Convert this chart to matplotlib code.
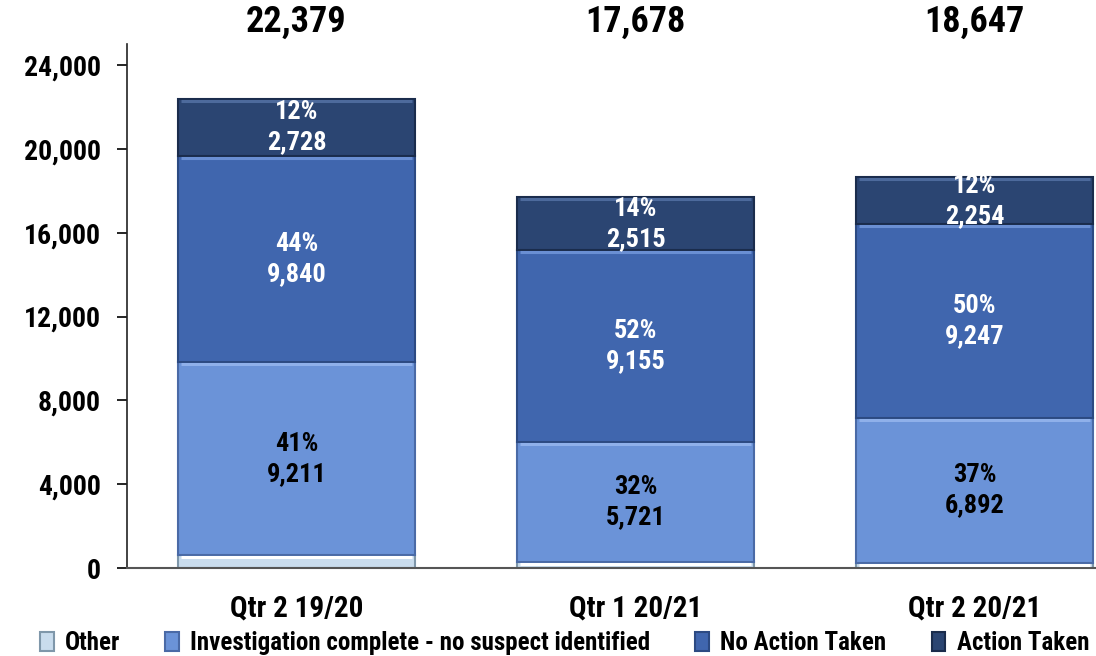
import matplotlib
matplotlib.use("Agg")
import matplotlib.pyplot as plt
import numpy as np
from matplotlib.ticker import FuncFormatter

plt.rcParams['font.family'] = ['Roboto Condensed', 'Roboto', 'DejaVu Sans']
plt.rcParams['font.weight'] = 'bold'

# quarterly outcomes, bottom segment first
quarters = ["Qtr 2 19/20", "Qtr 1 20/21", "Qtr 2 20/21"]
totals = [22379, 17678, 18647]
action_taken = [2728, 2515, 2254]
no_action = [9840, 9155, 9247]
no_suspect = [9211, 5721, 6892]
other = [t - a - n - s for t, a, n, s in zip(totals, action_taken, no_action, no_suspect)]

series_names = ["Other", "Investigation complete - no suspect identified",
                "No Action Taken", "Action Taken"]
series_vals = [other, no_suspect, no_action, action_taken]
fills = ["#c9dced", "#6b93d8", "#4066ae", "#2b4572"]
edges = ["#7f97aa", "#4a6aa6", "#2c4a82", "#1a2c4c"]
highlights = ["#ffffff", "#8fb0ea", "#6a8fd3", "#4d6a9c"]
label_colors = [None, "black", "white", "white"]

fig = plt.figure(figsize=(10.96, 6.56), dpi=100)
# plot area runs past the right edge of the canvas
ax = fig.add_axes([0.1159, 0.1341, 0.928, 0.7988])

x = np.arange(len(quarters))
width = 0.7
bottoms = np.zeros(len(quarters))
handles = []
for name, vals, fc, ec, hc, lc in zip(series_names, series_vals, fills, edges,
                                       highlights, label_colors):
    vals = np.array(vals, dtype=float)
    bars = ax.bar(x, vals, width, bottom=bottoms, color=fc, edgecolor=ec,
                  linewidth=1.5, label=name, zorder=2)
    handles.append(bars)
    # bevel: light strip along the top of each segment
    for rect in bars:
        x0 = rect.get_x()
        w = rect.get_width()
        top = rect.get_y() + rect.get_height()
        ax.plot([x0 + 0.01, x0 + w - 0.01], [top - 90, top - 90], color=hc,
                lw=2.2, solid_capstyle='butt', zorder=3)
    if lc is not None:
        for xi, b, v, t in zip(x, bottoms, vals, totals):
            pct = f"{round(100 * v / t):.0f}%"
            ax.text(xi, b + v / 2 + 720, pct, ha='center', va='center',
                    color=lc, fontsize=19, fontweight='bold', zorder=4)
            ax.text(xi, b + v / 2 - 720, f"{int(v):,}", ha='center', va='center',
                    color=lc, fontsize=19, fontweight='bold', zorder=4)
    bottoms += vals

for xi, t in zip(x, totals):
    ax.text(xi, 26050, f"{t:,}", ha='center', va='center', fontsize=26,
            fontweight='bold', clip_on=False)

ax.set_xlim(-0.5, 2.5)
ax.set_ylim(0, 25000)
ax.set_yticks(np.arange(0, 24001, 4000))
ax.yaxis.set_major_formatter(FuncFormatter(lambda v, p: f"{int(v):,}"))
ax.set_xticks(x)
ax.set_xticklabels(quarters)
ax.tick_params(axis='y', length=7, width=1.2, labelsize=20, pad=12)
ax.tick_params(axis='x', length=0, labelsize=21, pad=19)
for lab in ax.get_xticklabels() + ax.get_yticklabels():
    lab.set_fontweight('bold')
ax.spines['top'].set_visible(False)
ax.spines['right'].set_visible(False)
ax.spines['left'].set_color('#222222')
ax.spines['bottom'].set_color('#555555')
ax.spines['left'].set_linewidth(1.2)
ax.spines['bottom'].set_linewidth(1.5)

fig.legend(handles=handles, labels=series_names, loc='center',
           bbox_to_anchor=(0.515, 0.02), ncol=4, frameon=False,
           handlelength=0.55, handleheight=0.8, handletextpad=0.45,
           columnspacing=1.8, prop={'size': 18, 'weight': 'bold'})

fig.savefig("out.png", dpi=100)
